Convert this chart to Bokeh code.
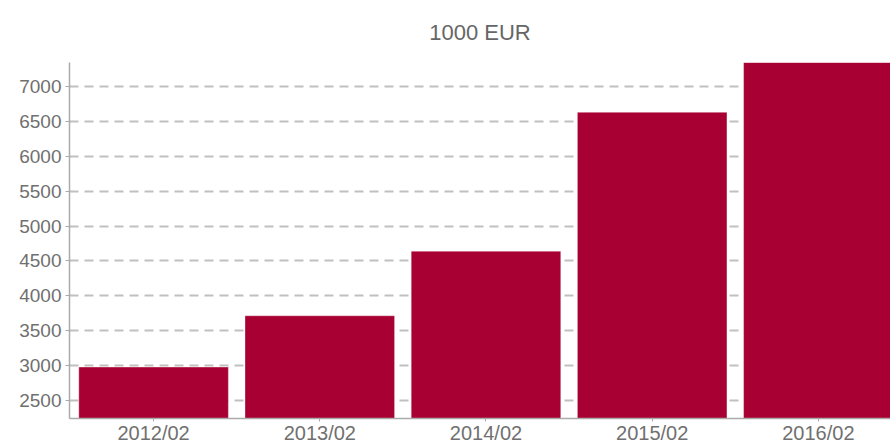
from bokeh.plotting import figure
from bokeh.models import Range1d, FixedTicker, ColumnDataSource
from bokeh.embed import file_html
from bokeh.resources import INLINE

title_text = "1000 EUR"
categories = ["2012/02", "2013/02", "2014/02", "2015/02", "2016/02"]
values = [2980, 3715, 4640, 6630, 7350]
y_ticks = [2500, 3000, 3500, 4000, 4500, 5000, 5500, 6000, 6500, 7000]

idx = list(range(len(categories)))
src = ColumnDataSource(dict(x=idx, top=values, cat=categories))

p = figure(width=890, height=446, output_backend="svg", toolbar_location=None,
           title=title_text,
           x_range=Range1d(-0.506, 4.434), y_range=Range1d(2243, 7343),
           min_border_left=69, min_border_right=0, min_border_bottom=28, min_border_top=0)
p.outline_line_color = None
p.background_fill_color = "white"

p.title.align = "center"
p.title.text_font = "Liberation Sans"
p.title.text_font_size = "22px"
p.title.text_font_style = "normal"
p.title.text_color = "#666666"
p.title.standoff = 35

p.vbar(x="x", top="top", bottom=2243, width=0.9, source=src,
       fill_color="#a80032", line_color="#ffffff", line_alpha=0.35, line_width=1)

p.xgrid.grid_line_color = None
p.ygrid.grid_line_color = "#c0c0c0"
p.ygrid.grid_line_dash = "9 6"
p.ygrid.grid_line_width = 2
p.ygrid.ticker = FixedTicker(ticks=y_ticks)

for ax in (p.xaxis[0], p.yaxis[0]):
    ax.axis_line_color = "#aaaaaa"
    ax.axis_line_width = 1.5
    ax.major_tick_line_color = "#aaaaaa"
    ax.major_tick_in = 0
    ax.major_tick_out = 4
    ax.minor_tick_line_color = None
    ax.major_label_text_font = "Liberation Sans"
    ax.major_label_text_color = "#707070"

p.yaxis.major_label_text_font_size = "19px"
p.xaxis.major_label_text_font_size = "20px"
p.xaxis.major_tick_out = 3
p.yaxis.ticker = FixedTicker(ticks=y_ticks)
p.yaxis.major_label_standoff = 4
p.xaxis.ticker = FixedTicker(ticks=idx)
p.xaxis.major_label_overrides = {i: c for i, c in enumerate(categories)}
p.xaxis.major_label_standoff = 0

open("out.html", "w").write(file_html(p, INLINE))
